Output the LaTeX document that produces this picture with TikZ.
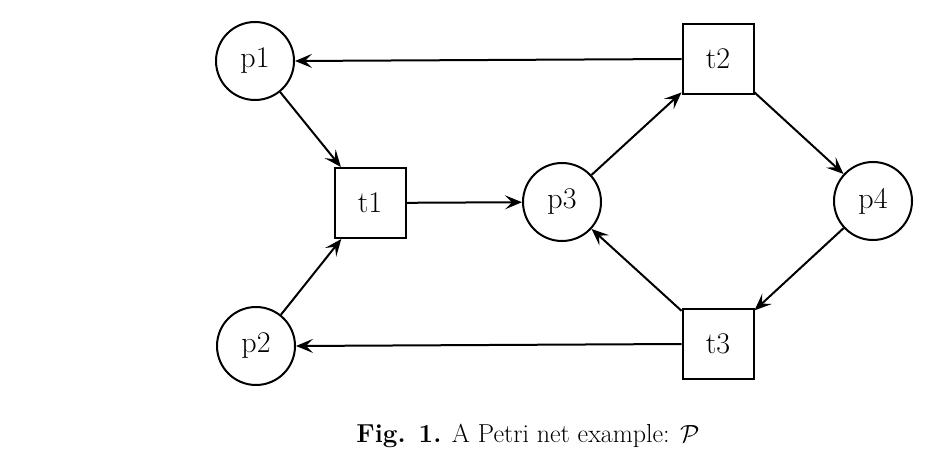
\documentclass[tikz,border=0pt]{standalone}
\usetikzlibrary{arrows.meta}
\begin{document}
\begin{tikzpicture}[x=1pt,y=-1pt,
  place/.style={draw,circle,line width=2pt,minimum size=78pt,inner sep=0pt,font=\fontsize{30}{32}\selectfont},
  trans/.style={draw,rectangle,line width=2pt,minimum width=71pt,minimum height=70pt,inner sep=0pt,font=\fontsize{30}{32}\selectfont},
  arc/.style={line width=2pt,-{Stealth[length=17pt,width=14pt,inset=7pt]}}]
\useasboundingbox (0,0) rectangle (942,457);
\node[place] (p1) at (255,61) {p1};
\node[place] (p2) at (256,346) {p2};
\node[trans] (t1) at (370,203) {t1};
\node[place] (p3) at (562,202) {p3};
\node[trans] (t2) at (718,59) {t2};
\node[trans] (t3) at (718,344) {t3};
\node[place] (p4) at (873,201) {p4};
\draw[arc] (p1) -- (t1);
\draw[arc] (p2) -- (t1);
\draw[arc] (t1) -- (p3);
\draw[arc] (p3) -- (t2);
\draw[arc] (t2) -- (p4);
\draw[arc] (p4) -- (t3);
\draw[arc] (t3) -- (p3);
\draw[arc] (t2.west) -- (p1.east);
\draw[arc] (t3.west) -- (p2.east);
\node[font=\fontsize{26}{30}\selectfont] (cap) at (528,436) {\textbf{Fig. 1.} A Petri net example: $\mathcal{P}$};
\end{tikzpicture}
\end{document}
